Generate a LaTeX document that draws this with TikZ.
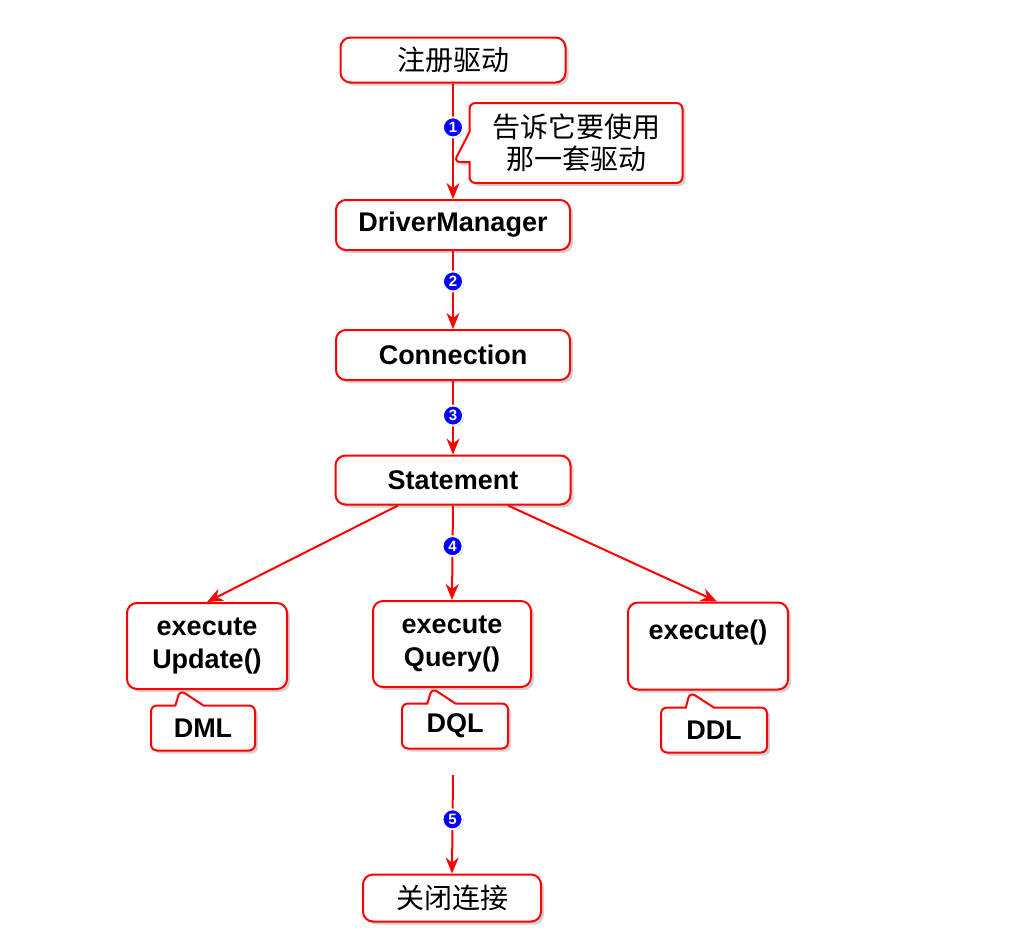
\documentclass[tikz,border=0pt]{standalone}
\usepackage{fontspec}
\setmainfont{Liberation Sans}
\newfontfamily\cjk{Noto Sans CJK SC}
\usetikzlibrary{arrows.meta,shapes.callouts,shadows}

\begin{document}
\begin{tikzpicture}[x=0.5pt,y=-0.5pt]
	\tikzstyle{box}=[rectangle,draw=red,line width=1pt,rounded corners=5pt,fill=white,align=center,drop shadow={opacity=0.35,shadow xshift=1.5pt,shadow yshift=-1.5pt},font=\fontsize{13.5}{16.5}\selectfont\bfseries]
	\tikzstyle{cjkbox}=[box,font=\fontsize{14}{16}\selectfont\cjk]
	\tikzstyle{note}=[rectangle callout,draw=red,line width=1pt,rounded corners=3pt,fill=white,align=center,callout pointer width=14pt,drop shadow={opacity=0.35,shadow xshift=1.5pt,shadow yshift=-1.5pt},font=\fontsize{13.5}{16.5}\selectfont\bfseries]
	\tikzstyle{flow}=[draw=red,line width=1pt,-{Stealth[length=8pt,width=6.5pt]}]
	\tikzstyle{badge}=[circle,fill=blue,draw=white,line width=0.9pt,text=white,inner sep=0pt,minimum size=10pt,drop shadow={opacity=0.5,shadow xshift=0.5pt,shadow yshift=-0.5pt},font=\fontsize{7.5}{8}\selectfont\bfseries]
	\fill [white] (0,0) rectangle (1024,950);
	\useasboundingbox (0,0) rectangle (1024,950);
	\node (reg)   at (453,60)  [cjkbox,minimum width=112.5pt,minimum height=22.5pt] {注册驱动};
	\node (dm)    at (453,225) [box,minimum width=117pt,minimum height=25pt] {DriverManager};
	\node (conn)  at (453,355) [box,minimum width=117pt,minimum height=25pt] {Connection};
	\node (stmt)  at (453,480) [box,minimum width=117.5pt,minimum height=24.5pt] {Statement};
	\node (upd)   at (207,646) [box,minimum width=80pt,minimum height=43pt] {execute\\Update()};
	\node (qry)   at (452,644) [box,minimum width=79pt,minimum height=43pt] {execute\\Query()};
	\node (exe)   at (708,646) [box,minimum width=80pt,minimum height=43.5pt] {execute()\\~};
	\node (close) at (452,898) [cjkbox,minimum width=89pt,minimum height=23.5pt] {关闭连接};
	\coordinate (tellptr) at (454,162);
	\coordinate (dmlptr)  at (180,690);
	\coordinate (dqlptr)  at (432,688);
	\coordinate (ddlptr)  at (690,692);
	\coordinate (endq)    at (453,775);
	\node (tell) at (576,143) [note,callout pointer width=15pt,font=\fontsize{14}{16}\selectfont\cjk,minimum width=106.5pt,minimum height=40pt,callout absolute pointer={(tellptr)}] {告诉它要使用\\那一套驱动};
	\node (dml) at (203,728) [note,minimum width=52pt,minimum height=22.5pt,callout absolute pointer={(dmlptr)}] {DML};
	\node (dql) at (455,726) [note,minimum width=53pt,minimum height=22.5pt,callout absolute pointer={(dqlptr)}] {DQL};
	\node (ddl) at (714,730) [note,minimum width=53pt,minimum height=22.5pt,callout absolute pointer={(ddlptr)}] {DDL};
	\draw [flow] (reg.south)  -- (dm.north)    node [badge,pos=0.38] {1};
	\draw [flow] (dm.south)   -- (conn.north)  node [badge,pos=0.39] {2};
	\draw [flow] (conn.south) -- (stmt.north)  node [badge,pos=0.47] {3};
	\draw [flow] (stmt.south) -- (qry.north)   node [badge,pos=0.43] {4};
	\draw [flow] ([xshift=-27.5pt]stmt.south) -- (upd.north);
	\draw [flow] ([xshift=27.5pt]stmt.south)  -- ([xshift=4.5pt]exe.north);
	\draw [flow] (endq) -- (close.north) node [badge,pos=0.45] {5};
\end{tikzpicture}
\end{document}
